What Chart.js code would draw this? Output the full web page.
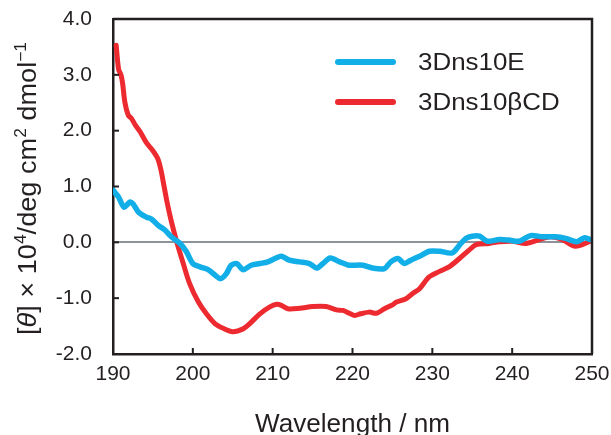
<!DOCTYPE html>
<html>
<head>
<meta charset="utf-8">
<script src="https://cdn.jsdelivr.net/npm/chart.js@4.4.1/dist/chart.umd.min.js"></script>
<style>
    html, body { margin: 0; padding: 0; background: #fff; }
    #wrap { width: 611px; height: 435px; }
</style>
</head>
<body>
<div id="wrap"><canvas id="cd-chart"></canvas></div>
<script>
// CD spectra, values ([theta] x 10^4 deg cm2 dmol-1)
const blue_wl = [190.0, 190.3, 190.7, 191.4, 192.1, 192.5, 193.2, 194.2, 194.8, 195.7, 196.5, 197.3, 198.4, 199.2, 200.0, 200.9, 201.9, 202.8, 203.5, 204.2, 204.8, 205.5, 206.3, 207.3, 208.4, 209.4, 210.3, 211.1, 212.1, 213.4, 214.6, 215.5, 216.3, 217.2, 218.4, 219.5, 220.0, 221.3, 222.5, 224.0, 224.8, 225.7, 226.5, 227.3, 228.4, 229.6, 230.9, 232.5, 233.4, 234.2, 235.0, 235.9, 236.9, 238.4, 239.6, 240.9, 242.3, 243.8, 245.4, 246.7, 248.1, 249.0, 249.8];
const blue_vals = [0.94, 0.88, 0.81, 0.63, 0.72, 0.69, 0.54, 0.45, 0.42, 0.30, 0.22, 0.10, -0.02, -0.17, -0.38, -0.44, -0.49, -0.59, -0.65, -0.56, -0.41, -0.38, -0.49, -0.41, -0.38, -0.35, -0.29, -0.25, -0.32, -0.35, -0.38, -0.46, -0.38, -0.28, -0.35, -0.41, -0.41, -0.41, -0.46, -0.47, -0.35, -0.29, -0.38, -0.32, -0.25, -0.16, -0.16, -0.19, -0.05, 0.07, 0.11, 0.11, 0.02, 0.05, 0.04, 0.02, 0.12, 0.10, 0.10, 0.07, 0.01, 0.08, 0.05];

const red_wl = [190.4, 190.7, 191.0, 191.2, 191.5, 191.9, 192.3, 192.8, 193.4, 194.2, 195.0, 195.6, 196.0, 196.4, 196.8, 197.3, 198.0, 198.8, 199.6, 200.7, 201.7, 202.8, 203.8, 205.0, 206.3, 207.1, 208.4, 209.6, 210.5, 211.1, 211.9, 213.4, 215.0, 216.7, 218.0, 218.8, 219.6, 220.3, 221.0, 222.1, 223.0, 224.0, 225.0, 225.5, 226.7, 227.5, 228.4, 229.6, 230.9, 232.1, 233.4, 234.6, 235.5, 237.1, 238.4, 240.0, 241.7, 243.4, 244.8, 246.3, 247.9, 249.8];
const red_vals = [3.53, 3.10, 3.00, 2.85, 2.50, 2.28, 2.22, 2.10, 1.98, 1.78, 1.64, 1.50, 1.30, 1.00, 0.70, 0.38, 0.00, -0.38, -0.74, -1.07, -1.28, -1.46, -1.54, -1.60, -1.55, -1.46, -1.28, -1.16, -1.11, -1.13, -1.19, -1.18, -1.15, -1.15, -1.21, -1.22, -1.27, -1.31, -1.28, -1.25, -1.27, -1.19, -1.12, -1.07, -1.01, -0.92, -0.83, -0.62, -0.52, -0.44, -0.29, -0.14, -0.04, -0.02, 0.01, 0.02, -0.02, 0.05, 0.10, 0.05, -0.07, 0.02];

const series_names = ['3Dns10E', '3Dns10\u03B2CD'];
const series_colors = ['#12aee8', '#ec2a30'];

const x_range = [190, 250];
const y_range = [-2, 4];

const FONT = '"Liberation Sans", Arial, Helvetica, sans-serif';
const TEXT_COLOR = '#231f20';

function toPoints(xs, ys) {
    return xs.map((x, i) => ({ x: x, y: ys[i] }));
}

// text slightly wider than Arial, like the original figure font
function wideText(ctx, text, x, y, stretch) {
    ctx.save();
    ctx.translate(x, y);
    ctx.scale(stretch, 1);
    ctx.fillText(text, 0, 0);
    ctx.restore();
}

// inward tick marks + top/right frame
const framePlugin = {
    id: 'frame',
    afterDraw(chart) {
        const ctx = chart.ctx;
        const a = chart.chartArea;
        const xs = chart.scales.x;
        const ys = chart.scales.y;
        ctx.save();
        ctx.strokeStyle = '#231f20';
        ctx.lineWidth = 2.5;
        ctx.beginPath();
        ctx.moveTo(a.left, a.top);
        ctx.lineTo(a.right, a.top);
        ctx.lineTo(a.right, a.bottom);
        ctx.stroke();
        ctx.lineWidth = 2;
        ys.ticks.forEach(t => {
            const y = ys.getPixelForValue(t.value);
            ctx.beginPath();
            ctx.moveTo(a.left, y);
            ctx.lineTo(a.left + 6, y);
            ctx.stroke();
        });
        xs.ticks.forEach(t => {
            const x = xs.getPixelForValue(t.value);
            ctx.beginPath();
            ctx.moveTo(x, a.bottom);
            ctx.lineTo(x, a.bottom - 6);
            ctx.stroke();
        });
        ctx.restore();
    }
};

// legend inside the plot, upper right
const legendPlugin = {
    id: 'innerLegend',
    afterDraw(chart) {
        const ctx = chart.ctx;
        ctx.save();
        chart.data.datasets.forEach((ds, i) => {
            const y = 62 + i * 40;
            ctx.strokeStyle = ds.borderColor;
            ctx.lineWidth = 6;
            ctx.lineCap = 'round';
            ctx.beginPath();
            ctx.moveTo(338, y);
            ctx.lineTo(393, y);
            ctx.stroke();
            ctx.fillStyle = TEXT_COLOR;
            ctx.font = '24px ' + FONT;
            ctx.textBaseline = 'middle';
            ctx.textAlign = 'left';
            wideText(ctx, ds.label, 418, y + 1, 1.08);
        });
        ctx.restore();
    }
};

// axis titles (y title has italic theta and superscripts)
const titlePlugin = {
    id: 'axisTitles',
    afterDraw(chart) {
        const ctx = chart.ctx;
        const a = chart.chartArea;
        ctx.save();
        ctx.fillStyle = TEXT_COLOR;
        ctx.font = '25px ' + FONT;
        ctx.textAlign = 'center';
        ctx.textBaseline = 'alphabetic';
        wideText(ctx, 'Wavelength / nm', (a.left + a.right) / 2, 432, 1.045);

        const size = 25;
        const parts = [
            { t: '[', s: 'n' }, { t: '\u03B8', s: 'i' }, { t: '] \u00D7 10', s: 'n' },
            { t: '4', s: 'u' }, { t: '/deg cm', s: 'n' }, { t: '2', s: 'u' },
            { t: ' dmol', s: 'n' }, { t: '\u22121', s: 'u' }
        ];
        const fontFor = s => s === 'i' ? 'italic ' + size + 'px ' + FONT
            : s === 'u' ? Math.round(size * 0.64) + 'px ' + FONT
            : size + 'px ' + FONT;
        let total = 0;
        parts.forEach(p => { ctx.font = fontFor(p.s); p.w = ctx.measureText(p.t).width; total += p.w; });
        const stretch = 293 / total;
        ctx.translate(36, 188.5);
        ctx.rotate(-Math.PI / 2);
        ctx.scale(stretch, 1);
        ctx.textAlign = 'left';
        let x = -total / 2;
        parts.forEach(p => {
            ctx.font = fontFor(p.s);
            ctx.fillText(p.t, x, p.s === 'u' ? -size * 0.42 : 0);
            x += p.w;
        });
        ctx.restore();
    }
};

new Chart(document.getElementById('cd-chart'), {
    type: 'line',
    data: {
        datasets: [
            {
                label: series_names[0],
                data: toPoints(blue_wl, blue_vals),
                borderColor: series_colors[0],
                borderWidth: 5.5,
                pointRadius: 0,
                tension: 0.3,
                borderCapStyle: 'round',
                borderJoinStyle: 'round'
            },
            {
                label: series_names[1],
                data: toPoints(red_wl, red_vals),
                borderColor: series_colors[1],
                borderWidth: 5,
                pointRadius: 0,
                tension: 0.3,
                borderCapStyle: 'round',
                borderJoinStyle: 'round'
            }
        ]
    },
    options: {
        responsive: true,
        maintainAspectRatio: false,
        animation: false,
        layout: { padding: { top: 19, right: 19, left: 0, bottom: 0 } },
        scales: {
            x: {
                type: 'linear',
                min: x_range[0],
                max: x_range[1],
                afterFit(scale) {
                    scale.height = 81;
                    scale.paddingLeft = 0;
                    scale.paddingRight = 0;
                },
                ticks: {
                    stepSize: 10,
                    color: TEXT_COLOR,
                    padding: 8,
                    maxRotation: 0,
                    font: { family: FONT, size: 21 }
                },
                grid: { display: false, drawTicks: false },
                border: { display: true, color: '#231f20', width: 2.5 }
            },
            y: {
                min: y_range[0],
                max: y_range[1],
                afterFit(scale) {
                    scale.width = 113;
                    scale.paddingTop = 0;
                    scale.paddingBottom = 0;
                },
                ticks: {
                    stepSize: 1,
                    color: TEXT_COLOR,
                    padding: 21,
                    font: { family: FONT, size: 21 },
                    callback: v => v.toFixed(1)
                },
                grid: {
                    drawTicks: false,
                    lineWidth: 2,
                    color: ctx => (ctx.tick && ctx.tick.value === 0) ? '#8d919a' : 'rgba(0,0,0,0)'
                },
                border: { display: true, color: '#231f20', width: 2.5 }
            }
        },
        plugins: {
            legend: { display: false },
            tooltip: { enabled: false }
        }
    },
    plugins: [framePlugin, legendPlugin, titlePlugin]
});
</script>
</body>
</html>
